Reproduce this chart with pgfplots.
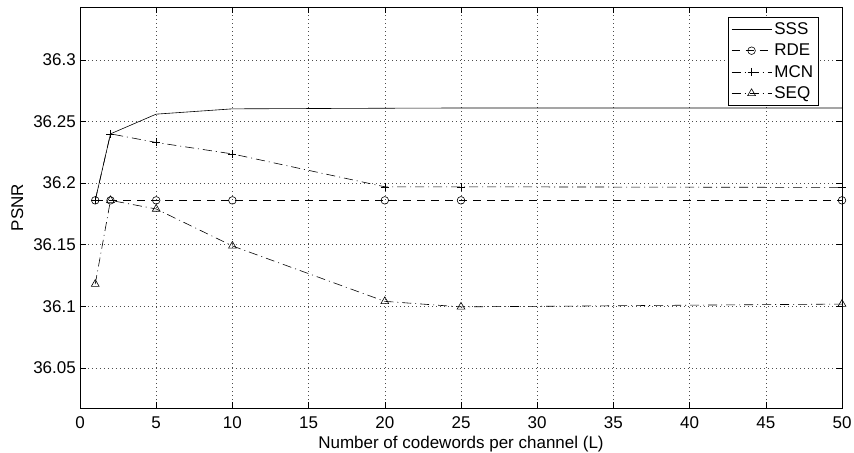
\documentclass[border=0pt]{standalone}
\usepackage{fontspec}
\setmainfont{Liberation Sans}
\usepackage{pgfplots}
\pgfplotsset{compat=1.18}
\pgfplotstableread{
L SSS RDE MCN SEQ
1 36.186 36.186 36.186 36.118
2 36.240 36.186 36.240 36.186
5 36.256 36.186 36.233 36.179
10 36.2603 36.186 36.2237 36.149
20 36.2608 36.186 36.197 36.104
25 36.261 36.186 36.197 36.0995
50 36.261 36.186 36.1965 36.1018
}\datatable
\begin{document}
\begin{tikzpicture}[font=\fontsize{17bp}{20bp}\selectfont]
\begin{axis}[
  scale only axis, width=762bp, height=401bp,
  xmin=0, xmax=50, ymin=36.0174, ymax=36.343,
  xtick={0,5,...,50},
  xticklabels={0,5,10,15,20,25,30,35,40,45,50},
  ytick={36.05,36.1,36.15,36.2,36.25,36.3},
  yticklabels={36.05,36.1,36.15,36.2,36.25,36.3},
  /pgf/number format/assume math mode=true,
  scaled y ticks=false,
  tick align=inside, major tick length=6bp,
  every tick/.style={black, line width=0.6bp},
  axis line style={black, line width=0.8bp},
  grid=major,
  major grid style={black!70, line width=0.5bp, dash pattern=on 0.7bp off 3.3bp},
  xticklabel style={anchor=base, yshift=-20bp, inner sep=0pt},
  yticklabel style={anchor=east, xshift=-4bp, inner sep=0pt},
  xlabel={Number of codewords per channel (L)},
  ylabel={PSNR},
  xlabel style={at={(axis description cs:0.5,0)}, anchor=base, yshift=-40bp, inner sep=0pt},
  ylabel style={at={(axis description cs:-0.0748,0.5)}, anchor=base, rotate=0, inner sep=0pt},
  every axis plot/.append style={black, line width=0.6bp,
    legend image code/.code={\draw[mark repeat=2,mark phase=2,##1] plot coordinates {(0bp,0bp) (20bp,0bp) (40bp,0bp)};}},
  legend cell align=left,
  legend style={at={(0.9698,0.9755)}, anchor=north east, draw=black, line width=0.8bp,
    inner sep=3bp, row sep=3bp, nodes={inner sep=2.5bp}},
]
\addplot[solid] table[x=L, y=SSS] {\datatable};
\addlegendentry{SSS}
\addplot[dash pattern=on 8bp off 6bp, mark=o, mark size=3.8bp, mark options={solid}] table[x=L, y=RDE] {\datatable};
\addlegendentry{RDE}
\addplot[dash pattern=on 9bp off 4bp on 1bp off 4bp, mark=+, mark size=4bp, mark options={solid}] table[x=L, y=MCN] {\datatable};
\addlegendentry{MCN}
\addplot[dash pattern=on 9bp off 4bp on 1bp off 4bp, mark=triangle, mark size=4.5bp, mark options={solid}] table[x=L, y=SEQ] {\datatable};
\addlegendentry{SEQ}
\end{axis}
\pgfresetboundingbox
\path ([xshift=-80bp,yshift=-45bp]current axis.south west) rectangle ([xshift=12bp,yshift=7bp]current axis.north east);
\end{tikzpicture}
\end{document}
